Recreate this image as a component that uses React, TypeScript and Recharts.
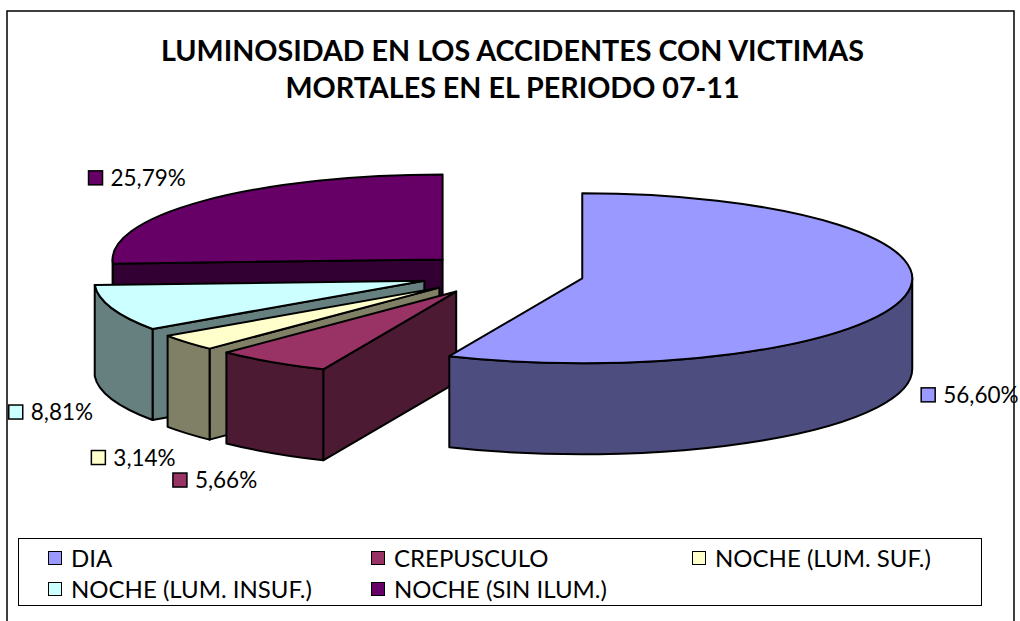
import React from 'react';
import { PieChart, Pie, Legend } from 'recharts';

const categories = ['DIA', 'CREPUSCULO', 'NOCHE (LUM. SUF.)', 'NOCHE (LUM. INSUF.)', 'NOCHE (SIN ILUM.)'];
const shares = [56.6, 5.66, 3.14, 8.81, 25.79];
const topColors = ['#9999FF', '#993366', '#FFFFCC', '#CCFFFF', '#660066'];
const wallColors = ['#4D4D80', '#4D1A33', '#808066', '#668080', '#330033'];
const titleLines = ['LUMINOSIDAD EN LOS ACCIDENTES CON VICTIMAS', 'MORTALES EN EL PERIODO 07-11'];

// label offset from the rim point of each slice, in the same order as categories
const labelNudges = [
  [23, 99],
  [-92, 118],
  [-89, 115],
  [-96, 104],
  [-108, -23],
];

// drawn back to front, so the table runs the other way round the pie
const table = categories
  .map((name, i) => ({ name, value: shares[i], top: topColors[i], wall: wallColors[i], nudge: labelNudges[i] }))
  .reverse();

const FONT = 'Lato, "Open Sans", sans-serif';
const SQUASH = 85 / 330;
const DEPTH = 91;
const EXPLODE = 0.2485;

const rad = (d: number) => (d * Math.PI) / 180;

// recharts angles -> clockwise degrees from 12 o'clock
const clockAngles = (startAngle: number, endAngle: number) => {
  let a = 90 - Math.max(startAngle, endAngle);
  let b = 90 - Math.min(startAngle, endAngle);
  if (a < 0) {
    a += 360;
    b += 360;
  }
  return [a, b];
};

const geometry = (props: any) => {
  const { cx, cy, outerRadius, startAngle, endAngle } = props;
  const [a, b] = clockAngles(startAngle, endAngle);
  const mid = (a + b) / 2;
  const ry = outerRadius * SQUASH;
  const ax = cx + EXPLODE * outerRadius * Math.sin(rad(mid));
  const ay = cy - EXPLODE * ry * Math.cos(rad(mid));
  const at = (t: number) => [ax + outerRadius * Math.sin(rad(t)), ay - ry * Math.cos(rad(t))];
  return { a, b, mid, ax, ay, rx: outerRadius, ry, at };
};

const Slice3D = (props: any) => {
  const { a, b, ax, ay, rx, ry, at } = geometry(props);
  const { top, wall } = props.payload ?? props;
  const pa = at(a);
  const pb = at(b);
  const large = b - a > 180 ? 1 : 0;
  const line = { stroke: '#000', strokeWidth: 2, strokeLinejoin: 'round' as const };

  const cutFace = (p: number[]) =>
    `M${ax},${ay} L${p[0]},${p[1]} L${p[0]},${p[1] + DEPTH} L${ax},${ay + DEPTH} Z`;

  const from = Math.max(a, 90);
  const to = Math.min(b, 270);
  let rim = null;
  if (to > from) {
    const p = at(from);
    const q = at(to);
    rim = (
      <path
        d={`M${p[0]},${p[1]} A${rx},${ry} 0 0 1 ${q[0]},${q[1]} L${q[0]},${q[1] + DEPTH} A${rx},${ry} 0 0 0 ${p[0]},${p[1] + DEPTH} Z`}
        fill={wall}
        {...line}
      />
    );
  }

  return (
    <g>
      {Math.sin(rad(a)) < -0.001 && <path d={cutFace(pa)} fill={wall} {...line} />}
      {Math.sin(rad(b)) > 0.001 && <path d={cutFace(pb)} fill={wall} {...line} />}
      {rim}
      <path
        d={`M${ax},${ay} L${pa[0]},${pa[1]} A${rx},${ry} 0 ${large} 1 ${pb[0]},${pb[1]} Z`}
        fill={top}
        {...line}
      />
    </g>
  );
};

const SliceLabel = (props: any) => {
  const { mid, at } = geometry(props);
  const { value, top, nudge } = props.payload ?? props;
  const p = at(mid);
  const x = p[0] + nudge[0];
  const y = p[1] + nudge[1];
  return (
    <g>
      <rect x={x - 7} y={y - 7} width={14} height={14} fill={top} stroke="#000" strokeWidth={1.5} />
      <text x={x + 15} y={y + 8} fontFamily={FONT} fontSize={22.5} fill="#000">
        {value.toFixed(2).replace('.', ',') + '%'}
      </text>
    </g>
  );
};

const legendColumns = [48, 371, 692];

const LegendBox = () => (
  <div style={{ position: 'absolute', left: 18, top: 538, width: 964, height: 68, border: '1px solid #000', boxSizing: 'border-box', background: '#fff' }}>
    {categories.map((name, i) => (
      <div
        key={name}
        style={{
          position: 'absolute',
          left: legendColumns[i % 3] - 19,
          top: i < 3 ? 4 : 35,
          display: 'flex',
          alignItems: 'center',
          fontFamily: FONT,
          fontSize: 24,
          lineHeight: '30px',
          whiteSpace: 'nowrap',
          color: '#000',
        }}
      >
        <span style={{ width: 14, height: 14, marginRight: 9, background: topColors[i], border: '1.5px solid #000', boxSizing: 'border-box' }} />
        {name}
      </div>
    ))}
  </div>
);

export default function App() {
  return (
    <div style={{ position: 'fixed', left: 0, top: 0, width: 1020, height: 621, background: '#fff', overflow: 'hidden' }}>
      <PieChart width={1020} height={621} margin={{ top: 0, right: 0, bottom: 0, left: 0 }}>
        <rect x={7} y={11} width={1007} height={630} fill="#fff" stroke="#000" strokeWidth={1.5} />
        {titleLines.map((t, i) => (
          <text key={t} x={512.5} y={61 + i * 37} textAnchor="middle" fontFamily={FONT} fontWeight={700} fontSize={28.7} fill="#000">
            {t}
          </text>
        ))}
        <Pie
          data={table}
          dataKey="value"
          nameKey="name"
          cx={502}
          cy={274}
          innerRadius={0}
          outerRadius={330}
          startAngle={90}
          endAngle={450}
          stroke="none"
          shape={Slice3D}
          label={SliceLabel}
          labelLine={false}
          isAnimationActive={false}
        />
        <Legend content={LegendBox} wrapperStyle={{ position: 'absolute', left: 0, top: 0, width: 0, height: 0 }} />
      </PieChart>
    </div>
  );
}
